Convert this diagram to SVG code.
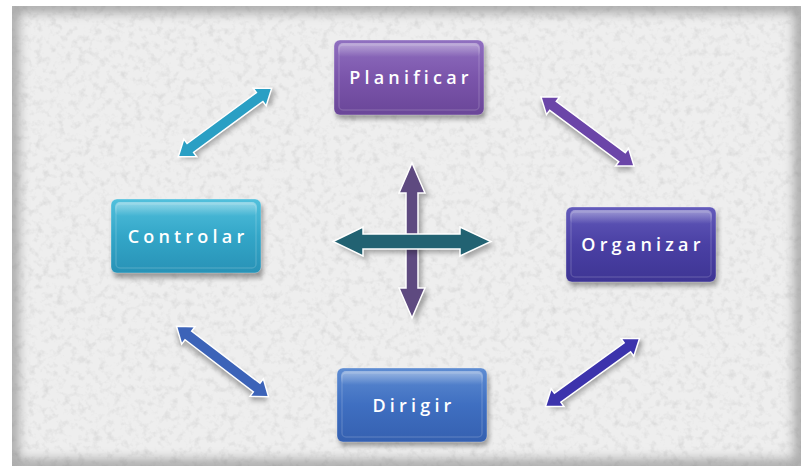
<svg xmlns="http://www.w3.org/2000/svg" width="801" height="469" viewBox="0 0 801 469">
<defs>
<filter id="noise" x="0" y="0" width="100%" height="100%">
<feTurbulence type="fractalNoise" baseFrequency="0.14" numOctaves="3" seed="7"/>
<feColorMatrix type="matrix" values="0 0 0 0 0.6  0 0 0 0 0.6  0 0 0 0 0.6  1.3 0 0 0 -0.62"/>
<feComposite in2="SourceGraphic" operator="in"/>
</filter>
<filter id="edge" x="-5%" y="-5%" width="110%" height="110%">
<feGaussianBlur stdDeviation="6"/>
</filter>
<filter id="sh" x="-20%" y="-20%" width="140%" height="140%">
<feGaussianBlur stdDeviation="2.5"/>
</filter>
<clipPath id="bgclip"><rect x="12" y="6" width="789" height="460"/></clipPath>
<linearGradient id="gP" x1="0" y1="0" x2="0" y2="1"><stop offset="0" stop-color="#9070c0"/><stop offset="0.5" stop-color="#7b55ab"/><stop offset="1" stop-color="#6a4698"/></linearGradient>
<linearGradient id="gC" x1="0" y1="0" x2="0" y2="1"><stop offset="0" stop-color="#52c0dc"/><stop offset="0.5" stop-color="#33a6c8"/><stop offset="1" stop-color="#2892b6"/></linearGradient>
<linearGradient id="gO" x1="0" y1="0" x2="0" y2="1"><stop offset="0" stop-color="#635bbb"/><stop offset="0.5" stop-color="#4a40a4"/><stop offset="1" stop-color="#3e3594"/></linearGradient>
<linearGradient id="gD" x1="0" y1="0" x2="0" y2="1"><stop offset="0" stop-color="#5e8cd2"/><stop offset="0.5" stop-color="#3f6fc1"/><stop offset="1" stop-color="#3560b0"/></linearGradient>
<linearGradient id="gloss" x1="0" y1="0" x2="0" y2="1"><stop offset="0" stop-color="#fff" stop-opacity="0.4"/><stop offset="1" stop-color="#fff" stop-opacity="0"/></linearGradient>
<path id="dbl" d="M-58,0 L-43,-11 L-43,-5.5 L43,-5.5 L43,-11 L58,0 L43,11 L43,5.5 L-43,5.5 L-43,11 Z"/>
</defs>
<style>
.lbl{font-family:"Open Sans","Liberation Sans",sans-serif;font-weight:600;font-size:18px;fill:#ffffff;letter-spacing:4.2px;text-anchor:middle}
.box{stroke:#ffffff;stroke-opacity:0.3;stroke-width:1}
.gl{fill:url(#gloss)}
.bev{fill:none;stroke:#ffffff;stroke-opacity:0.14;stroke-width:1.5}
.nsh{fill:#000;opacity:0.35;filter:url(#sh)}
.ar{stroke:#ffffff;stroke-width:1.5;stroke-linejoin:miter}
.arsh{fill:#000;opacity:0.3;filter:url(#sh)}
</style>
<rect width="801" height="469" fill="#ffffff"/>
<g id="background" clip-path="url(#bgclip)">
<rect x="12" y="6" width="789" height="460" fill="#eeeeee"/>
<rect x="12" y="6" width="789" height="460" fill="#fff" filter="url(#noise)"/>
<rect x="12" y="6" width="789" height="460" fill="none" stroke="#6a6a6a" stroke-width="12" filter="url(#edge)" opacity="0.6"/>
</g>
<g id="connectors">
<g transform="translate(225,122.5) rotate(-36.3)"><use href="#dbl" class="arsh" transform="translate(2,4)"/><use href="#dbl" class="ar" fill="#2a9fc4"/></g>
<g transform="translate(587.5,131.5) rotate(36.6)"><use href="#dbl" class="arsh" transform="translate(2,4)"/><use href="#dbl" class="ar" fill="#6b45a8"/></g>
<g transform="translate(592.5,372.5) rotate(-35.8)"><use href="#dbl" class="arsh" transform="translate(2,4)"/><use href="#dbl" class="ar" fill="#3c33ac"/></g>
<g transform="translate(222.5,361.5) rotate(37.4)"><use href="#dbl" class="arsh" transform="translate(2,4)"/><use href="#dbl" class="ar" fill="#3c63b8"/></g>
</g>
<g id="center-cross">
<path d="M412,163 L425,193 L418,193 L418,288 L425,288 L412,318 L399,288 L406,288 L406,193 L399,193 Z" class="arsh" transform="translate(4,4)"/>
<path d="M412,163 L425,193 L418,193 L418,288 L425,288 L412,318 L399,288 L406,288 L406,193 L399,193 Z" class="ar" fill="#5e4a80"/>
<path d="M333,241.5 L363,227 L363,234 L460,234 L460,227 L491,241.5 L460,256 L460,249 L363,249 L363,256 Z" class="arsh" transform="translate(4,4)"/>
<path d="M333,241.5 L363,227 L363,234 L460,234 L460,227 L491,241.5 L460,256 L460,249 L363,249 L363,256 Z" class="ar" fill="#226272"/>
</g>
<g id="node-planificar">
<rect x="336" y="44" width="150" height="75" rx="6" class="nsh"/>
<rect x="334" y="40" width="150" height="75" rx="6" fill="url(#gP)" class="box"/>
<rect x="338" y="43" width="142" height="14" rx="5" class="gl"/>
<rect x="339" y="45" width="140" height="65" rx="4" class="bev"/>
<text x="411" y="84" class="lbl">Planificar</text>
</g>
<g id="node-controlar">
<rect x="113" y="203" width="150" height="75" rx="6" class="nsh"/>
<rect x="111" y="199" width="150" height="74" rx="6" fill="url(#gC)" class="box"/>
<rect x="115" y="202" width="142" height="14" rx="5" class="gl"/>
<rect x="116" y="204" width="140" height="64" rx="4" class="bev"/>
<text x="188" y="243" class="lbl">Controlar</text>
</g>
<g id="node-organizar">
<rect x="568" y="211" width="150" height="75" rx="6" class="nsh"/>
<rect x="566" y="207" width="150" height="75" rx="6" fill="url(#gO)" class="box"/>
<rect x="570" y="210" width="142" height="14" rx="5" class="gl"/>
<rect x="571" y="212" width="140" height="65" rx="4" class="bev"/>
<text x="643" y="251" class="lbl">Organizar</text>
</g>
<g id="node-dirigir">
<rect x="339" y="372" width="150" height="74" rx="6" class="nsh"/>
<rect x="337" y="368" width="150" height="74" rx="6" fill="url(#gD)" class="box"/>
<rect x="341" y="371" width="142" height="14" rx="5" class="gl"/>
<rect x="342" y="373" width="140" height="64" rx="4" class="bev"/>
<text x="414" y="412" class="lbl">Dirigir</text>
</g>
</svg>
